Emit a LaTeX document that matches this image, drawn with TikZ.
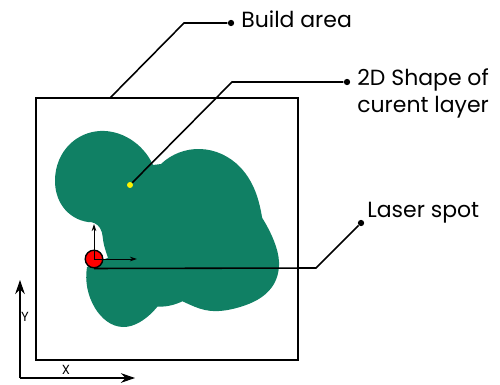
\documentclass[tikz,border=0pt]{standalone}
\usepackage{fontspec}
\setmainfont{Poppins}
\usepackage{tikz}
\usetikzlibrary{arrows.meta, positioning, hobby}
\definecolor{layergreen}{RGB}{16,128,100}

\tikzset{
  leader/.style={line width=0.9pt},
  tipdot/.style={circle, fill=black, inner sep=0pt, minimum size=3.6pt},
  lbl/.style={font=\fontsize{12.5}{15.5}\selectfont, inner sep=0pt, anchor=base west, align=left},
  axlbl/.style={font=\fontsize{7.5}{9}\selectfont, inner sep=0pt},
}

\begin{document}
\begin{tikzpicture}[x=0.02cm, y=-0.02cm]
  \useasboundingbox (0,0) rectangle (500,385);

  % build area
  \draw[line width=1.1pt] (36,98) rectangle (298,360);

  % shape of the layer
  \fill[layergreen] (88,222)
    to[curve through={(63,207) (55,180) (70,144) (100,131) (130,139)}] (153,165)
    -- (161,164)
    to[curve through={(200,149) (240,167) (257,196) (262,217)}] (264,232)
    to[curve through={(274,241) (279,262) (272,287) (240,307) (205,310) (184,302)}] (168,295)
    to[curve through={(158,306) (140,322) (123,327) (95,308)}] (87,267)
    to[curve through={(104,245) (100,228)}] (88,222)
    -- cycle;

  % points and labels
  \coordinate (ba) at (110,98);
  \coordinate (baknee) at (184,23);
  \node[tipdot] (badot) at (231,23) {};
  \node[lbl] (balbl) at (241,27.5) {Build area};

  \node[circle, fill=yellow, inner sep=0pt, minimum size=3.4pt] (shp) at (130,185) {};
  \coordinate (shknee) at (232,82);
  \node[tipdot] (shdot) at (347,82) {};
  \node[lbl] (shlbl) at (357,112.5) {2D Shape of\\curent layer};

  \coordinate (lsknee) at (316,268);
  \node[tipdot] (lsdot) at (361,223) {};
  \node[lbl] (lslbl) at (367,217) {Laser spot};

  \draw[leader] (ba) -- (baknee) -- (badot);
  \draw[leader] (shp) -- (shknee) -- (shdot);

  % laser spot
  \node[circle, draw, fill=red, line width=0.8pt, minimum size=10pt, inner sep=0pt] (spot) at (94,259) {};
  \draw[leader] (spot.south) -- (lsknee) -- (lsdot);
  \coordinate (ytip) at (94,224);
  \coordinate (xtip) at (137,259);
  \draw[line width=0.5pt, -{Stealth[length=4pt, width=2.6pt]}] (spot.center) -- (ytip);
  \draw[line width=0.5pt, -{Stealth[length=4pt, width=2.6pt]}] (spot.center) -- (xtip);

  % axes
  \coordinate (org) at (20,378);
  \coordinate (yend) at (20,280);
  \coordinate (xend) at (135,378);
  \draw[line width=0.6pt, -{Stealth[length=8pt, width=5.5pt]}] (org) -- (yend);
  \draw[line width=0.6pt, -{Stealth[length=8pt, width=5.5pt]}] (org) -- (xend);
  \node[axlbl] (ylbl) at (25,317) {Y};
  \node[axlbl] (xlbl) at (66,370) {X};
\end{tikzpicture}
\end{document}
